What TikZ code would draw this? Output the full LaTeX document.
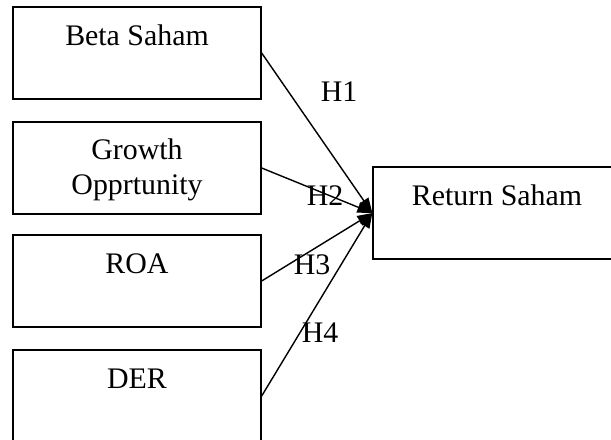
\documentclass[tikz,border=0pt]{standalone}
\usepackage{fontspec}
\setmainfont{Liberation Serif}
\usetikzlibrary{arrows.meta}
\usetikzlibrary{positioning}
\newcommand{\lowstrut}{\rule[-3.1pt]{0pt}{14pt}}

\begin{document}
\begin{tikzpicture}[x=0.02cm, y=-0.02cm,
    varbox/.style={draw, line width=0.8pt, minimum width=4.96cm, minimum height=1.84cm, inner sep=0pt, align=center, font=\fontsize{17}{20}\selectfont},
    hyp/.style={font=\fontsize{17}{20}\selectfont, inner sep=0pt},
    link/.style={line width=0.8pt, -{Triangle[length=0.3cm, width=0.22cm]}}]
    \useasboundingbox (0,0) rectangle (611,439);

    \node[varbox] (beta)   at (137,53)  {\strut Beta Saham\\\lowstrut};
    \node[varbox] (growth) at (137,168) {\strut Growth\\\lowstrut Opprtunity};
    \node[varbox] (roa)    at (137,281) {\strut ROA\\\lowstrut};
    \node[varbox] (der)    at (137,396) {\strut DER\\\lowstrut};

    \node[varbox] (ret)    at (497,213) {\strut Return Saham\\\lowstrut};

    \draw[link] (beta.east)   -- (ret.west);
    \draw[link] (growth.east) -- (ret.west);
    \draw[link] (roa.east)    -- (ret.west);
    \draw[link] (der.east)    -- (ret.west);

    \node[hyp] (h1) at (339,92)  {H1};
    \node[hyp] (h2) at (325,196) {H2};
    \node[hyp] (h3) at (312,265) {H3};
    \node[hyp] (h4) at (320,333) {H4};

  \end{tikzpicture}
\end{document}
